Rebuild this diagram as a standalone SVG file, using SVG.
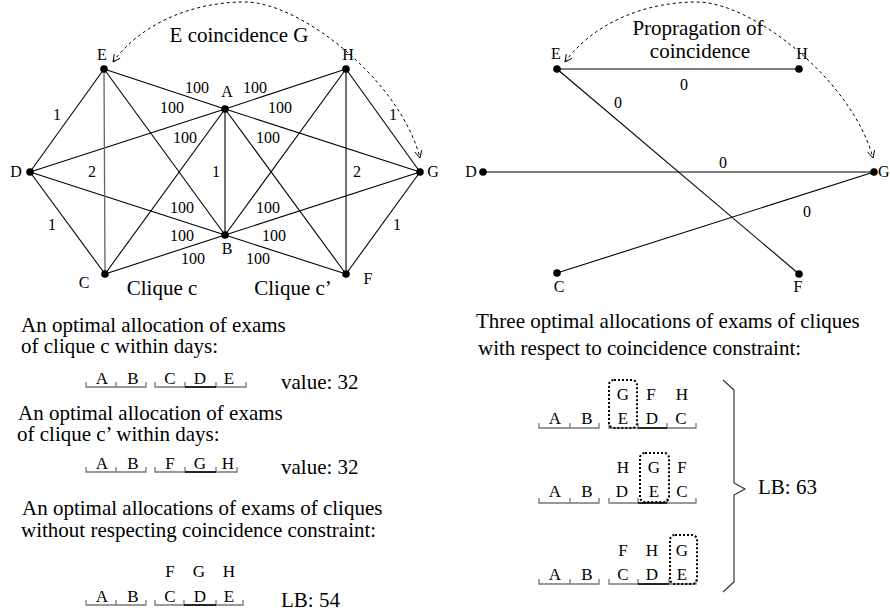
<svg xmlns="http://www.w3.org/2000/svg" width="890" height="614" viewBox="0 0 890 614" font-family="'Liberation Serif','Times New Roman',serif">
<defs>
<style>
text{font-family:"Liberation Serif","Times New Roman",serif;fill:#000}
.big{font-size:21px}
.lbl{font-size:16px}
.w{font-size:16px;text-anchor:middle}
.al{font-size:17px;text-anchor:middle}
.m{text-anchor:middle}
.e{stroke:#000;stroke-width:1.1;fill:none}
.eg{stroke:#666;stroke-width:1.3;fill:none}
.arc{stroke:#000;stroke-width:1;fill:none;stroke-dasharray:3,3}
.br{stroke:#777;stroke-width:1.3;fill:none}
.bd{stroke:#000;stroke-width:1.5;fill:none}
.dot{stroke:#000;stroke-width:2;fill:none;stroke-dasharray:2,2}
.brace{stroke:#333;stroke-width:1.2;fill:none}
</style>
<marker id="ah" viewBox="0 0 10 10" refX="9" refY="5" markerWidth="9" markerHeight="9" orient="auto-start-reverse" markerUnits="userSpaceOnUse">
<path d="M1,1 L9,5 L1,9" fill="none" stroke="#000" stroke-width="1"/>
</marker>
<circle id="n" r="3.8" fill="#000"/>
</defs>

<!-- LEFT GRAPH -->
<g id="left-edges">
<line class="e" x1="225" y1="109" x2="104" y2="69"/>
<line class="e" x1="225" y1="109" x2="346" y2="69"/>
<line class="e" x1="225" y1="109" x2="30" y2="172"/>
<line class="e" x1="225" y1="109" x2="420" y2="172"/>
<line class="e" x1="225" y1="109" x2="105" y2="274"/>
<line class="e" x1="225" y1="109" x2="346" y2="274"/>
<line class="e" x1="225" y1="109" x2="225" y2="235"/>
<line class="e" x1="225" y1="235" x2="104" y2="69"/>
<line class="e" x1="225" y1="235" x2="346" y2="69"/>
<line class="e" x1="225" y1="235" x2="30" y2="172"/>
<line class="e" x1="225" y1="235" x2="420" y2="172"/>
<line class="e" x1="225" y1="235" x2="105" y2="274"/>
<line class="e" x1="225" y1="235" x2="346" y2="274"/>
<line class="e" x1="104" y1="69" x2="30" y2="172"/>
<line class="eg" x1="104" y1="69" x2="105" y2="274"/>
<line class="e" x1="30" y1="172" x2="105" y2="274"/>
<line class="e" x1="346" y1="69" x2="420" y2="172"/>
<line class="e" x1="346" y1="69" x2="346" y2="274"/>
<line class="e" x1="420" y1="172" x2="346" y2="274"/>
<path class="arc" d="M113,62 C140,25 190,2 245,2 C300,2 400,80 420,158" marker-start="url(#ah)" marker-end="url(#ah)"/>
</g>
<g id="left-weights">
<text class="w" x="197" y="93">100</text>
<text class="w" x="255" y="93">100</text>
<text class="w" x="172" y="113">100</text>
<text class="w" x="280" y="113">100</text>
<text class="w" x="185" y="143">100</text>
<text class="w" x="268" y="143">100</text>
<text class="w" x="182" y="213">100</text>
<text class="w" x="268" y="213">100</text>
<text class="w" x="182" y="241">100</text>
<text class="w" x="274" y="241">100</text>
<text class="w" x="193" y="264">100</text>
<text class="w" x="258" y="264">100</text>
<text class="w" x="57" y="120">1</text>
<text class="w" x="393" y="120">1</text>
<text class="w" x="92" y="177">2</text>
<text class="w" x="216" y="177">1</text>
<text class="w" x="357" y="177">2</text>
<text class="w" x="52" y="230">1</text>
<text class="w" x="397" y="230">1</text>
</g>
<g id="lE"><use href="#n" x="104" y="69"/><text class="lbl m" x="102" y="60">E</text></g>
<g id="lH"><use href="#n" x="346" y="69"/><text class="lbl m" x="348" y="60">H</text></g>
<g id="lA"><use href="#n" x="225" y="109"/><text class="lbl m" x="227" y="97">A</text></g>
<g id="lD"><use href="#n" x="30" y="172"/><text class="lbl m" x="16" y="177">D</text></g>
<g id="lG"><use href="#n" x="420" y="172"/><text class="lbl m" x="433" y="177">G</text></g>
<g id="lB"><use href="#n" x="225" y="235"/><text class="lbl m" x="227" y="254">B</text></g>
<g id="lC"><use href="#n" x="105" y="274"/><text class="lbl m" x="84" y="288">C</text></g>
<g id="lF"><use href="#n" x="346" y="274"/><text class="lbl m" x="368" y="284">F</text></g>
<text class="big m" x="239" y="42">E coincidence G</text>
<text class="big m" x="162" y="295">Clique c</text>
<text class="big m" x="293" y="295">Clique c’</text>

<!-- RIGHT GRAPH -->
<g id="right-edges">
<line class="e" x1="557" y1="69" x2="799" y2="69"/>
<line class="e" x1="557" y1="69" x2="799" y2="274"/>
<line class="e" x1="483" y1="172" x2="874" y2="172"/>
<line class="e" x1="557" y1="273" x2="874" y2="172"/>
<path class="arc" d="M565,62 C592,25 642,2 697,2 C752,2 852,80 873,158" marker-start="url(#ah)" marker-end="url(#ah)"/>
</g>
<g id="right-weights">
<text class="w" x="684" y="90">0</text>
<text class="w" x="618" y="108">0</text>
<text class="w" x="723" y="168">0</text>
<text class="w" x="807" y="217">0</text>
</g>
<g id="rE"><use href="#n" x="557" y="69"/><text class="lbl m" x="556" y="59">E</text></g>
<g id="rH"><use href="#n" x="799" y="69"/><text class="lbl m" x="802" y="59">H</text></g>
<g id="rD"><use href="#n" x="483" y="172"/><text class="lbl m" x="471" y="177">D</text></g>
<g id="rG"><use href="#n" x="874" y="172"/><text class="lbl" x="878" y="177">G</text></g>
<g id="rC"><use href="#n" x="557" y="273"/><text class="lbl m" x="559" y="292">C</text></g>
<g id="rF"><use href="#n" x="799" y="274"/><text class="lbl m" x="798" y="292">F</text></g>
<text class="big m" x="698" y="35">Propragation of</text>
<text class="big m" x="700" y="58">coincidence</text>

<!-- LEFT TEXTS AND ALLOCATIONS -->
<g id="alloc-left">
<text class="big" x="21" y="332">An optimal allocation of exams</text>
<text class="big" x="21" y="353">of clique c within days:</text>
<path class="br" d="M86,382V387H146V382M116,382V387M155,382V387H246V382M185,382V387M216,382V387"/>
<line class="bd" x1="185" y1="387" x2="216" y2="387"/>
<text class="al" x="102" y="384">A</text><text class="al" x="133" y="384">B</text>
<text class="al" x="170" y="384">C</text><text class="al" x="200" y="384">D</text><text class="al" x="229" y="384">E</text>
<text class="big" x="281" y="389">value: 32</text>

<text class="big" x="18" y="420">An optimal allocation of exams</text>
<text class="big" x="17" y="441">of clique c’ within days:</text>
<path class="br" d="M86,467V472H146V467M116,467V472M155,467V472H237V467M185,467V472M216,467V472"/>
<line class="bd" x1="185" y1="472" x2="216" y2="472"/>
<text class="al" x="102" y="469">A</text><text class="al" x="133" y="469">B</text>
<text class="al" x="170" y="469">F</text><text class="al" x="200" y="469">G</text><text class="al" x="228" y="469">H</text>
<text class="big" x="281" y="474">value: 32</text>

<text class="big" x="22" y="515">An optimal allocations of exams of cliques</text>
<text class="big" x="21" y="537">without respecting coincidence constraint:</text>
<text class="al" x="170" y="577">F</text><text class="al" x="199" y="577">G</text><text class="al" x="229" y="577">H</text>
<path class="br" d="M86,600V605H146V600M116,600V605M155,600V605H243V600M184,600V605M216,600V605"/>
<line class="bd" x1="184" y1="605" x2="216" y2="605"/>
<text class="al" x="102" y="602">A</text><text class="al" x="133" y="602">B</text>
<text class="al" x="170" y="602">C</text><text class="al" x="200" y="602">D</text><text class="al" x="229" y="602">E</text>
<text class="big" x="281" y="607">LB: 54</text>
</g>

<!-- RIGHT TEXTS AND ALLOCATIONS -->
<g id="alloc-right">
<text class="big" x="476" y="328">Three optimal allocations of exams of cliques</text>
<text class="big" x="478" y="355">with respect to coincidence constraint:</text>

<path class="br" d="M539,423V428H599V423M570,423V428M609,423V428H696V423M638,423V428M667,423V428"/>
<line class="bd" x1="638" y1="428" x2="667" y2="428"/>
<text class="al" x="555" y="424">A</text><text class="al" x="587" y="424">B</text>
<text class="al" x="623" y="400">G</text><text class="al" x="651" y="400">F</text><text class="al" x="682" y="400">H</text>
<text class="al" x="623" y="424">E</text><text class="al" x="652" y="424">D</text><text class="al" x="681" y="424">C</text>
<rect class="dot" x="609" y="380" width="28" height="48" rx="5"/>

<path class="br" d="M539,498V503H599V498M570,498V503M609,498V503H696V498M638,498V503M667,498V503"/>
<line class="bd" x1="638" y1="503" x2="667" y2="503"/>
<text class="al" x="555" y="497">A</text><text class="al" x="587" y="497">B</text>
<text class="al" x="623" y="473">H</text><text class="al" x="654" y="473">G</text><text class="al" x="682" y="473">F</text>
<text class="al" x="622" y="497">D</text><text class="al" x="654" y="497">E</text><text class="al" x="682" y="497">C</text>
<rect class="dot" x="640" y="453" width="29" height="49" rx="5"/>

<path class="br" d="M539,579V584H599V579M570,579V584M609,579V584H696V579M638,579V584M669,579V584"/>
<line class="bd" x1="638" y1="584" x2="669" y2="584"/>
<text class="al" x="555" y="580">A</text><text class="al" x="587" y="580">B</text>
<text class="al" x="623" y="556">F</text><text class="al" x="652" y="556">H</text><text class="al" x="682" y="556">G</text>
<text class="al" x="623" y="580">C</text><text class="al" x="652" y="580">D</text><text class="al" x="682" y="580">E</text>
<rect class="dot" x="670" y="535" width="27" height="49" rx="5"/>

<path class="brace" d="M723,380L734,390V483L745,489L734,495V582L723,592"/>
<text class="big" x="758" y="494">LB: 63</text>
</g>
</svg>
